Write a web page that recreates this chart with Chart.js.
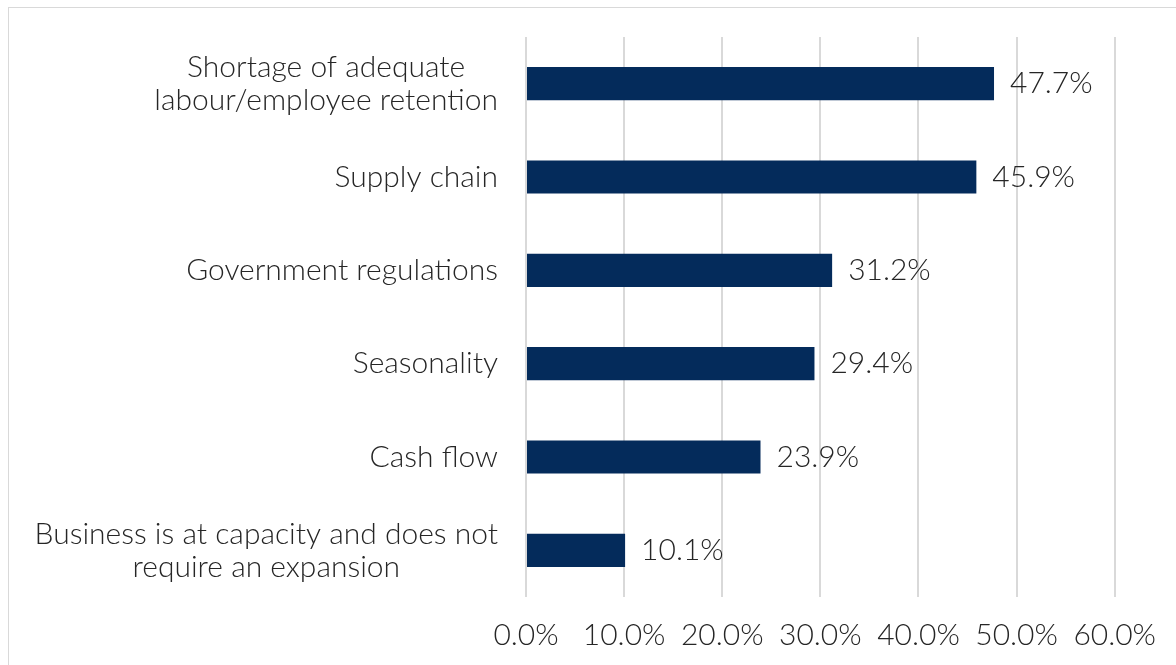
<!DOCTYPE html>
<html>
<head>
<meta charset="utf-8">
<script src="https://cdn.jsdelivr.net/npm/chart.js@4.4.1/dist/chart.umd.min.js"></script>
<style>
  html, body { margin: 0; padding: 0; background: #fff; overflow: hidden; }
  #wrap { position: relative; width: 1176px; height: 665px; }
  #frame { position: absolute; left: 8px; top: 7px; width: 1300px; height: 800px; border: 1px solid #d9d9d9; }
  #box { position: absolute; left: 0; top: 0; width: 1176px; height: 665px; }
</style>
</head>
<body>
<div id="wrap">
  <div id="frame"></div>
  <div id="box"><canvas id="chart"></canvas></div>
</div>
<script>
// categories, top to bottom
const categories = [
  ['Shortage of adequate', 'labour/employee retention'],
  'Supply chain',
  'Government regulations',
  'Seasonality',
  'Cash flow',
  ['Business is at capacity and does not', 'require an expansion']
];
const shares = [47.7, 45.9, 31.2, 29.4, 23.9, 10.1];
const axisMin = 0;
const axisMax = 60;
const axisStep = 10;

const FONT = 'Lato, "Open Sans", sans-serif';
const FONT_SIZE = 30;
const WEIGHT = 300;
const TEXT = '#262626';
const NAVY = '#042B5B';

// value printed just past the end of each bar
const valueLabels = {
  id: 'valueLabels',
  afterDatasetsDraw(chart) {
    const ctx = chart.ctx;
    const meta = chart.getDatasetMeta(0);
    ctx.save();
    ctx.font = WEIGHT + ' ' + FONT_SIZE + 'px ' + FONT;
    ctx.fillStyle = TEXT;
    ctx.textAlign = 'left';
    ctx.textBaseline = 'middle';
    meta.data.forEach((bar, i) => {
      ctx.fillText(shares[i].toFixed(1) + '%', bar.x + 16, bar.y);
    });
    ctx.restore();
  }
};

// category names: block right-aligned to the axis, lines centred inside the block
const categoryLabels = {
  id: 'categoryLabels',
  afterDraw(chart) {
    const ctx = chart.ctx;
    const y = chart.scales.y;
    const right = chart.chartArea.left - 28;
    const lineH = 33;
    ctx.save();
    ctx.font = WEIGHT + ' ' + FONT_SIZE + 'px ' + FONT;
    ctx.fillStyle = TEXT;
    ctx.textAlign = 'center';
    ctx.textBaseline = 'middle';
    categories.forEach((lab, i) => {
      const lines = [].concat(lab);
      const w = Math.max(...lines.map(l => ctx.measureText(l).width));
      const cy = y.getPixelForValue(i);
      lines.forEach((l, k) => {
        ctx.fillText(l, right - w / 2, cy + (k - (lines.length - 1) / 2) * lineH);
      });
    });
    ctx.restore();
  }
};

new Chart(document.getElementById('chart'), {
  type: 'bar',
  data: {
    labels: categories,
    datasets: [{
      data: shares,
      backgroundColor: NAVY,
      borderWidth: 0,
      barPercentage: 0.355,
      categoryPercentage: 1
    }]
  },
  options: {
    indexAxis: 'y',
    responsive: true,
    maintainAspectRatio: false,
    animation: false,
    layout: { padding: { top: 37, right: 59, left: 0, bottom: 0 } },
    plugins: {
      legend: { display: false },
      tooltip: { enabled: false }
    },
    scales: {
      x: {
        min: axisMin,
        max: axisMax,
        grid: { color: '#d9d9d9', lineWidth: 2, drawTicks: false },
        border: { display: false },
        ticks: {
          stepSize: axisStep,
          padding: 20,
          color: TEXT,
          font: { family: FONT, size: FONT_SIZE, weight: WEIGHT },
          callback: v => v.toFixed(1) + '%'
        },
        afterFit(scale) { scale.height = 68; }
      },
      y: {
        grid: { display: false },
        border: { display: false },
        ticks: { display: false },
        afterFit(scale) { scale.width = 526; }
      }
    }
  },
  plugins: [valueLabels, categoryLabels]
});
</script>
</body>
</html>
